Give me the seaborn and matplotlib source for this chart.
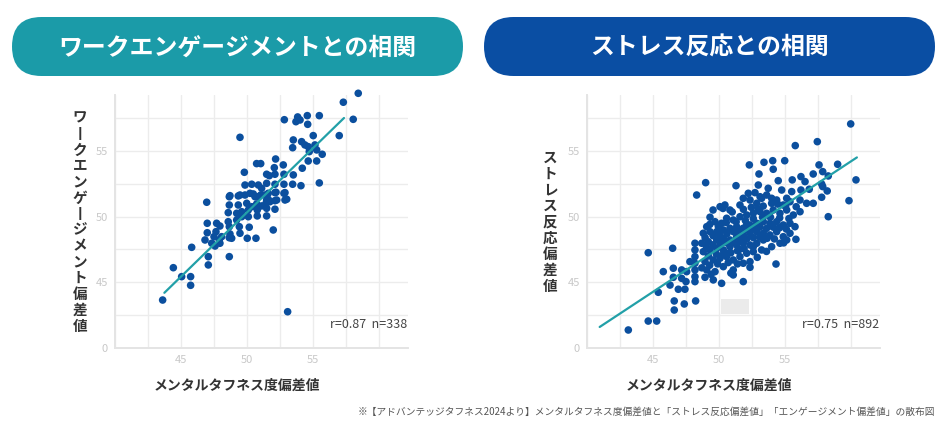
import numpy as np
import pandas as pd
import matplotlib
matplotlib.use("Agg")
import matplotlib.pyplot as plt
from matplotlib.patches import FancyBboxPatch, Rectangle
import seaborn as sns

# ---------------- data ----------------
titles = ["ワークエンゲージメントとの相関", "ストレス反応との相関"]
x_label = "メンタルタフネス度偏差値"
y_labels = ["ワークエンゲージメント偏差値", "ストレス反応偏差値"]
stats = ["r=0.87  n=338", "r=0.75  n=892"]
footer = "※【アドバンテッジタフネス2024より】メンタルタフネス度偏差値と「ストレス反応偏差値」「エンゲージメント偏差値」の散布図"

x_ticks = [45, 50, 55]
y_ticks = [40, 45, 50, 55]
y_tick_labels = ["0", "45", "50", "55"]

# work engagement (left)
we_x = [58.43, 57.30, 58.05, 56.99, 52.83, 53.84, 54.02, 53.71, 54.57, 54.60, 55.48, 49.47, 55.02,
        53.51, 53.46, 54.14, 54.39, 54.64, 55.15, 54.72, 55.28, 55.70, 54.64, 55.28, 54.19, 52.17,
        52.07, 52.75, 50.73, 51.04, 49.80, 51.49, 51.69, 52.12, 52.80, 53.51, 49.85, 50.36, 50.86,
        51.11, 51.49, 52.12, 52.80, 53.46, 54.09, 55.48, 48.71, 49.47, 50.23, 50.61, 51.04, 51.61,
        52.20, 52.80, 52.25, 52.88, 51.49, 51.74, 46.95, 48.66, 49.34, 49.85, 50.48, 50.86, 51.36,
        51.61, 52.12, 52.88, 53.01, 48.66, 49.34, 49.98, 50.36, 50.73, 51.11, 51.44, 52.12, 50.10,
        50.78, 51.49, 52.12, 48.58, 49.22, 49.60, 48.58, 49.22, 49.60, 50.10, 50.78, 51.49, 46.99,
        47.70, 47.95, 48.66, 49.42, 50.17, 51.99, 46.99, 47.65, 48.71, 49.47, 48.66, 48.84, 50.02,
        50.68, 46.82, 47.33, 47.58, 47.95, 47.90, 47.50, 48.08, 45.81, 47.07, 48.66, 47.07, 44.42,
        45.05, 45.73, 45.73, 43.61, 53.08]
we_y = [59.38, 58.70, 57.40, 56.16, 57.37, 57.58, 57.35, 57.22, 57.68, 57.02, 57.68, 56.03, 56.16,
        55.83, 55.24, 55.70, 55.45, 55.32, 55.45, 54.94, 55.07, 54.74, 54.23, 54.23, 53.68, 54.38,
        53.72, 53.93, 54.03, 54.03, 53.37, 53.22, 53.11, 53.22, 53.22, 53.17, 52.40, 52.46, 52.40,
        52.15, 52.53, 52.46, 52.46, 52.46, 52.35, 52.56, 51.59, 51.64, 51.77, 51.51, 51.64, 51.77,
        51.85, 51.77, 51.26, 51.26, 51.26, 51.13, 51.09, 51.51, 51.57, 51.64, 51.72, 51.51, 51.64,
        51.32, 51.82, 51.82, 51.32, 50.88, 50.88, 51.01, 50.75, 50.96, 50.81, 51.01, 51.21, 50.50,
        50.50, 50.63, 50.56, 50.30, 50.25, 50.37, 49.61, 49.74, 49.99, 49.99, 50.05, 50.05, 49.49,
        49.49, 49.28, 49.23, 49.23, 49.19, 48.98, 48.77, 48.85, 48.68, 48.73, 48.39, 48.35, 48.35,
        48.35, 48.22, 47.97, 47.76, 47.97, 48.22, 48.47, 48.47, 47.66, 46.95, 46.95, 46.32, 46.11,
        45.43, 45.43, 44.77, 43.65, 42.76]

# stress response (right)
sr_x = [59.98, 55.78, 57.45, 52.30, 53.41, 54.07, 54.98, 54.11, 53.03, 48.99, 48.31, 51.29, 52.98,
        53.73, 54.49, 55.55, 56.21, 56.52, 57.14, 57.58, 57.86, 58.99, 58.28, 57.78, 57.86, 58.20,
        56.84, 56.21, 55.51, 54.75, 57.78, 60.38, 52.22, 52.73, 53.11, 53.61, 53.99, 55.13, 51.84,
        49.32, 50.08, 50.45, 50.83, 51.59, 52.35, 52.86, 53.23, 53.99, 54.37, 54.87, 55.38, 56.14,
        56.64, 57.14, 58.28, 59.85,
        49.07, 49.70, 50.20, 50.58, 51.08, 51.59, 52.10, 52.60, 53.11, 53.61, 54.11, 54.62, 55.13,
        55.63, 56.14,
        48.81, 49.32, 49.83, 50.33, 50.83, 51.34, 51.84, 52.35, 52.86, 53.36, 53.86, 54.37, 54.87,
        55.38, 55.76,
        48.69, 49.19, 49.83, 50.33, 50.83, 51.34, 51.84, 52.35, 52.86, 53.36, 53.86, 54.37, 54.87,
        55.38, 55.83,
        48.81, 49.32, 49.83, 50.33, 50.83, 51.34, 51.84, 52.35, 52.86, 53.36, 53.99, 54.62, 55.13,
        48.94, 49.57, 50.08, 50.58, 51.08, 51.59, 52.10, 52.60, 53.23, 54.32,
        49.07, 49.70, 50.33, 51.08, 51.84, 52.35, 52.35,
        48.94, 49.57, 50.20, 51.08, 51.84,
        44.64, 46.49, 45.78, 46.54, 47.17, 46.54, 47.17, 47.50, 46.29, 46.92, 47.42, 45.40, 46.61,
        47.37, 48.23, 46.61, 44.64, 45.28, 43.13,
        48.18, 48.18, 48.18, 48.18, 48.18, 48.18, 48.18, 47.80, 47.55,
        49.55, 50.30, 51.00, 51.85, 52.45, 53.35, 53.80, 54.45, 55.05, 55.85, 52.95,
        49.30, 49.95, 50.55, 51.30, 52.00, 52.60, 53.30, 53.90, 54.60, 55.30, 52.10, 54.10,
        48.95, 49.55, 50.05, 50.60, 51.10, 51.60, 52.10, 52.60, 53.10, 53.60, 54.10, 54.60, 55.10,
        51.60, 53.10,
        49.05, 49.55, 50.10, 50.60, 51.10, 51.60, 52.10, 52.60, 53.10, 53.65, 54.20, 54.90, 50.60,
        51.55,
        49.20, 49.80, 50.30, 50.90, 51.40, 51.90, 52.60, 53.60, 52.90,
        48.70, 49.30, 49.90, 50.70, 51.40, 50.90, 49.40]
sr_y = [57.05, 55.40, 55.70, 53.93, 54.13, 54.25, 54.25, 53.60, 53.24, 52.58, 51.64, 52.35, 52.40,
        52.15, 52.73, 52.79, 53.04, 52.66, 53.24, 53.93, 53.42, 53.98, 53.09, 52.48, 52.28, 51.95,
        52.08, 52.02, 51.90, 52.02, 51.47, 52.79, 51.77, 51.82, 51.51, 51.64, 51.39, 51.39, 51.39,
        49.95, 50.75, 50.88, 50.50, 50.88, 51.26, 51.01, 51.39, 51.01, 51.26, 50.88, 51.13, 51.26,
        51.01, 51.01, 49.99, 51.21,
        49.23, 49.61, 49.49, 49.87, 49.74, 49.99, 50.12, 50.25, 50.37, 50.25, 50.50, 50.25, 50.50,
        50.12, 50.37,
        48.73, 48.85, 48.85, 48.98, 49.11, 49.23, 49.11, 49.36, 49.49, 49.61, 49.49, 49.61, 49.36,
        49.49, 49.23,
        47.97, 48.09, 48.22, 48.35, 48.22, 48.47, 48.60, 48.73, 48.85, 48.73, 48.60, 48.85, 48.47,
        48.73, 48.27,
        47.33, 47.46, 47.59, 47.46, 47.71, 47.84, 47.97, 47.84, 47.97, 48.22, 47.71, 47.97, 48.22,
        46.57, 46.70, 46.83, 46.95, 46.70, 46.95, 47.21, 47.33, 47.46, 46.39,
        45.94, 45.81, 46.19, 45.94, 46.45, 46.57, 46.14,
        45.38, 45.18, 44.92, 45.56, 45.05,
        47.25, 47.59, 45.81, 46.07, 45.94, 45.38, 45.30, 45.05, 44.79, 44.47, 44.47, 44.24, 43.58,
        43.35, 43.58, 42.89, 42.05, 42.05, 41.37,
        47.97, 47.46, 46.95, 46.45, 45.94, 45.43, 45.05, 46.57, 45.81,
        50.50, 50.62, 50.35, 50.55, 50.70, 50.80, 50.05, 50.95, 50.80, 50.75, 50.60,
        49.40, 49.25, 49.55, 49.60, 49.70, 49.85, 49.95, 49.95, 49.90, 49.85, 49.40, 49.25,
        48.40, 48.55, 48.60, 48.70, 48.85, 48.90, 49.00, 49.10, 49.20, 49.10, 49.20, 49.15, 49.05,
        48.25, 48.45,
        47.70, 47.85, 47.95, 48.00, 48.05, 48.20, 48.30, 48.40, 48.45, 48.35, 48.30, 48.00, 47.20,
        47.50,
        47.00, 47.15, 47.10, 47.25, 47.40, 47.55, 47.70, 47.35, 46.90,
        46.10, 46.30, 46.40, 46.50, 46.40, 45.70, 45.60]

# fitted lines (end points)
we_fit_x = [43.74, 57.35]
we_fit_y = [44.20, 57.50]
sr_fit_x = [40.96, 60.45]
sr_fit_y = [41.60, 54.50]

# light grey box visible on the right chart
sr_box = [50.13, 42.59, 2.14, 1.13]

# ---------------- style ----------------
sns.set_theme(style="white")
plt.rcParams["font.family"] = ["Noto Sans CJK JP", "DejaVu Sans"]

DOT = "#0b4f9e"
LINE = "#22a0a8"
PILL = ["#1b9ba8", "#0a4ea3"]
GRID = "#ececec"
TICK = "#c8c8c8"
TEXT = "#333333"

fig = plt.figure(figsize=(9.5, 4.33), dpi=100)

# background axes for title pills and footer
bg = fig.add_axes([0, 0, 1, 1], zorder=0)
bg.set_xlim(0, 950)
bg.set_ylim(433, 0)
bg.axis("off")
pill_boxes = [(12, 17, 451, 59), (484, 17, 451, 59)]
for (px, py, pw, ph), col, t in zip(pill_boxes, PILL, titles):
    bg.add_patch(FancyBboxPatch((px, py), pw, ph,
                                boxstyle=f"round,pad=0,rounding_size={ph/2}",
                                facecolor=col, edgecolor="none"))
    bg.text(px + pw / 2, py + ph / 2 + 1, t, color="white", fontsize=17.2,
            fontweight="bold", ha="center", va="center")

fig.text(0.984, 0.049, footer, ha="right", va="center", fontsize=7, color="#555555")

datasets = [
    (we_x, we_y, we_fit_x, we_fit_y),
    (sr_x, sr_y, sr_fit_x, sr_fit_y),
]
ax_lefts = [115 / 950, 587 / 950]
for i, ((xs, ys, fx, fy), left) in enumerate(zip(datasets, ax_lefts)):
    ax = fig.add_axes([left, 1 - 348 / 433, 293 / 950, 253 / 433], zorder=1)
    ax.patch.set_alpha(0)
    df = pd.DataFrame({"x": xs, "y": ys})
    sns.scatterplot(data=df, x="x", y="y", ax=ax, color=DOT, s=30,
                    edgecolor="none", linewidth=0, zorder=3, clip_on=False)
    sns.lineplot(x=fx, y=fy, ax=ax, color=LINE, linewidth=1.6, zorder=4)
    if i == 1:
        ax.add_patch(Rectangle((sr_box[0], sr_box[1]), sr_box[2], sr_box[3],
                               facecolor="#ebebeb", edgecolor="none", zorder=5))
    ax.set_xlim(40, 62.2)
    ax.set_ylim(40, 59.25)
    ax.set_xticks(x_ticks)
    ax.set_xticklabels([str(v) for v in x_ticks])
    ax.set_yticks(y_ticks)
    ax.set_yticklabels(y_tick_labels)
    ax.set_xticks(np.arange(40, 62.2, 2.5), minor=True)
    ax.set_yticks(np.arange(40, 59.2, 2.5), minor=True)
    ax.grid(True, which="both", color=GRID, linewidth=1.0, zorder=0)
    ax.set_axisbelow(True)
    ax.tick_params(which="both", length=0)
    ax.tick_params(axis="both", labelsize=8, colors=TICK, pad=5)
    for s in ["top", "right"]:
        ax.spines[s].set_visible(False)
    for s in ["left", "bottom"]:
        ax.spines[s].set_color("#e4e4e4")
        ax.spines[s].set_linewidth(1.4)
    ax.set_xlabel(x_label, fontsize=10, fontweight="bold", color=TEXT)
    ax.xaxis.set_label_coords(0.416, -0.12)
    ax.set_ylabel("")
    vert = "\n".join("丨" if c == "ー" else c for c in y_labels[i])
    ylab_x = (80 - 115) / 293 if i == 0 else (550 - 587) / 293
    ax.text(ylab_x, 0.5, vert, transform=ax.transAxes, ha="center", va="center",
            fontsize=10.5, fontweight="bold", color=TEXT, linespacing=1.0)
    ax.text(0.997, 0.091, stats[i], transform=ax.transAxes, ha="right", va="center",
            fontsize=9, color="#444444", zorder=6)

fig.savefig("out.png", dpi=100)
